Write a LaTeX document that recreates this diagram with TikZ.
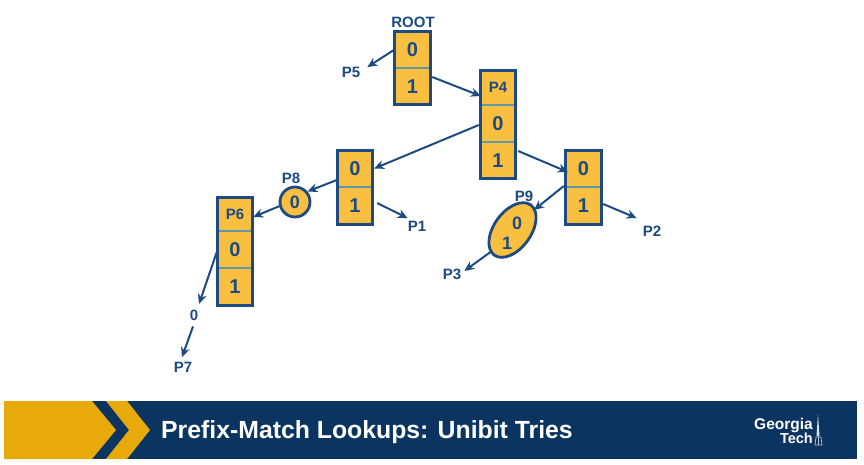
\documentclass[tikz,border=0pt]{standalone}
\usepackage{fontspec}
\setmainfont{Liberation Sans}
\usetikzlibrary{shapes.geometric,arrows.meta}
\definecolor{ink}{HTML}{1D4A80}
\definecolor{cellfill}{HTML}{F8BF40}
\definecolor{divider}{HTML}{5E9AA8}
\definecolor{bannernavy}{HTML}{0B3560}
\definecolor{bannergold}{HTML}{E8A90A}
\tikzset{
  cell/.style={fill=cellfill,inner sep=0pt,minimum width=37pt,text=ink,font=\bfseries\fontsize{20}{20}\selectfont},
  lblcell/.style={cell,font=\bfseries\fontsize{15}{15}\selectfont},
  frame/.style={draw=ink,line width=2.8pt,line join=miter},
  split/.style={draw=divider,line width=1.6pt},
  lbl/.style={inner sep=0pt,text=ink,font=\bfseries\fontsize{15}{15}\selectfont},
  arr/.style={draw=ink,line width=2pt,-{Stealth[length=10pt,width=9pt]}},
}
\begin{document}
\begin{tikzpicture}[x=1pt,y=-1pt]
\useasboundingbox (0,0) rectangle (864,464);
\fill[white] (0,0) rectangle (864,464);
% ROOT trie node
\node[cell,minimum height=37pt] (root0) at (412.5,49.5) {0};
\node[cell,minimum height=37pt] (root1) at (412.5,86.5) {1};
\draw[split] (root0.south west) -- (root0.south east);
\draw[frame] ([shift={(1,1)}]root0.north west) rectangle ([shift={(-1,-1)}]root1.south east);
\node[lbl] (rootlbl) at (413,22) {ROOT};
% P4
\node[lblcell,minimum width=36pt,minimum height=35pt] (p4p) at (498,87.5) {P4};
\node[cell,minimum width=36pt,minimum height=37pt] (p40) at (498,123.5) {0};
\node[cell,minimum width=36pt,minimum height=37pt] (p41) at (498,160.5) {1};
\draw[split] (p4p.south west) -- (p4p.south east);
\draw[split] (p40.south west) -- (p40.south east);
\draw[frame] ([shift={(1,1)}]p4p.north west) rectangle ([shift={(-1,-1)}]p41.south east);
% middle
\node[cell,minimum width=36pt,minimum height=37pt] (mid0) at (355,168.5) {0};
\node[cell,minimum width=36pt,minimum height=38pt] (mid1) at (355,206) {1};
\draw[split] (mid0.south west) -- (mid0.south east);
\draw[frame] ([shift={(1,1)}]mid0.north west) rectangle ([shift={(-1,-1)}]mid1.south east);
% right
\node[cell,minimum height=37pt] (right0) at (583.5,168.5) {0};
\node[cell,minimum height=38pt] (right1) at (583.5,206) {1};
\draw[split] (right0.south west) -- (right0.south east);
\draw[frame] ([shift={(1,1)}]right0.north west) rectangle ([shift={(-1,-1)}]right1.south east);
% P6
\node[lblcell,minimum width=36pt,minimum height=34pt] (p6p) at (235,214) {P6};
\node[cell,minimum width=36pt,minimum height=37pt] (p60) at (235,249.5) {0};
\node[cell,minimum width=36pt,minimum height=38pt] (p61) at (235,287) {1};
\draw[split] (p6p.south west) -- (p6p.south east);
\draw[split] (p60.south west) -- (p60.south east);
\draw[frame] ([shift={(1,1)}]p6p.north west) rectangle ([shift={(-1,-1)}]p61.south east);
% P8 circle
\node[circle,frame,fill=cellfill,minimum size=30pt,inner sep=0pt,text=ink,font=\bfseries\fontsize{18}{18}\selectfont] (p8) at (295,202) {0};
\node[lbl] (p8lbl) at (291,178) {P8};
% P9 ellipse
\node[ellipse,frame,fill=cellfill,minimum width=62pt,minimum height=37pt,inner sep=0pt,rotate=54] (p9) at (512.5,230) {};
\node[inner sep=0pt,text=ink,font=\bfseries\fontsize{18}{18}\selectfont] (p9a) at (517,223) {0};
\node[inner sep=0pt,text=ink,font=\bfseries\fontsize{18}{18}\selectfont] (p9b) at (507,243) {1};
\node[lbl] (p9lbl) at (524,196) {P9};
% labels
\node[lbl] (p5) at (351,72) {P5};
\node[lbl] (p1) at (417,226) {P1};
\node[lbl] (p2) at (652,231) {P2};
\node[lbl] (p3) at (452,274) {P3};
\node[lbl] (zero) at (194,315) {0};
\node[lbl] (p7) at (183,367) {P7};
% connectors
\draw[arr] ([shift={(0,0.5)}]root0.west) -- ([shift={(7,0.5)}]p5.north east);
\draw[arr] ([shift={(1,-9.5)}]root1.east) -- ([shift={(1,8.5)}]p4p.west);
\draw[arr] ([shift={(-1,1.5)}]p40.west) -- ([shift={(1,0)}]mid0.east);
\draw[arr] ([shift={(2,-9.5)}]p41.east) -- ([shift={(3,3.5)}]right0.west);
\draw[arr] ([shift={(0,11.5)}]mid0.west) -- (p8.40);
\draw[arr] (p8.195) -- ([shift={(0,3)}]p6p.east);
\draw[arr] ([shift={(4,-3)}]mid1.east) -- ([shift={(0,-2.5)}]p1.north west);
\draw[arr] ([shift={(0,2.5)}]p60.west) -- ([shift={(5,-5.5)}]zero.north);
\draw[arr] ([shift={(-1,6)}]zero.south) -- ([shift={(-1,-4.5)}]p7.north);
\draw[arr] ([shift={(-1,17.5)}]right0.west) -- ([shift={(21.5,-20)}]p9.center);
\draw[arr] ([shift={(1,-2)}]right1.east) -- ([shift={(-6,-7.5)}]p2.north west);
\draw[arr] ([shift={(-22,22)}]p9.center) -- ([shift={(3,2.5)}]p3.north east);
% banner
\fill[bannernavy] (4,401) rectangle (857,459);
\fill[bannergold] (4,401) -- (92,401) -- (116,430) -- (92,459) -- (4,459) -- cycle;
\fill[bannergold] (106,401) -- (127,401) -- (150,430) -- (127,459) -- (106,459) -- (129,430) -- cycle;
\node[anchor=west,inner sep=0pt,text=white,font=\bfseries\fontsize{24.8}{24.8}\selectfont] (title) at (161,432.5) {Prefix-Match Lookups: Unibit Tries};
% logo
\node[anchor=base east,inner sep=0pt,text=white,font=\bfseries\fontsize{15.5}{15.5}\selectfont] (logo1) at (813,429) {Georgia};
\node[anchor=base east,inner sep=0pt,text=white,font=\bfseries\fontsize{14.5}{14.5}\selectfont] (logo2) at (813,443) {Tech};
\fill[white!85!bannernavy] (818,414) -- (819.5,436) -- (816.5,436) -- cycle;
\draw[white!75!bannernavy,line width=0.7pt] (816,437) -- (815,445) -- (822,445) -- (821,437) -- cycle (818.5,437) -- (818.5,445);
\end{tikzpicture}
\end{document}
